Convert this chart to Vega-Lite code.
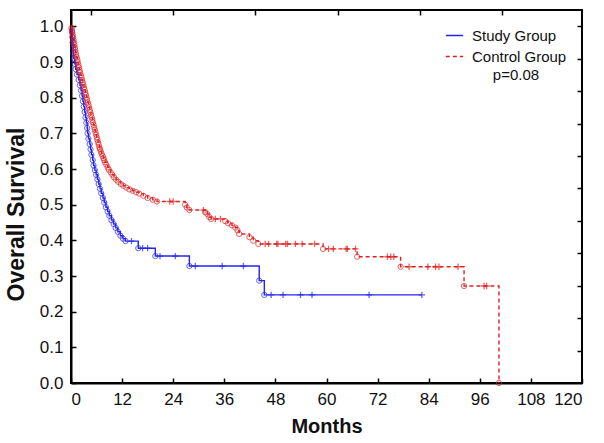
{
  "$schema": "https://vega.github.io/schema/vega-lite/v6.json",
  "width": 511,
  "height": 373,
  "autosize": {"type": "none"},
  "padding": {"left": 71, "top": 10, "right": 22, "bottom": 60},
  "background": "white",
  "config": {
    "font": "Liberation Sans",
    "view": {"stroke": "black", "strokeWidth": 2},
    "axis": {
      "domainColor": "black", "domainWidth": 2, "tickColor": "black", "tickWidth": 1.5,
      "labelColor": "#111", "labelFontSize": 17, "labelFont": "Liberation Sans",
      "titleFont": "Liberation Sans", "titleFontSize": 20, "titleFontWeight": "bold", "titleColor": "#111",
      "grid": false
    }
  },
  "datasets": {
    "km": [
      {"group": "Study Group", "t": 0, "s": 1.0, "type": "start"},
      {"group": "Study Group", "t": 0.2, "s": 0.985, "type": "event"},
      {"group": "Study Group", "t": 0.3, "s": 0.97, "type": "event"},
      {"group": "Study Group", "t": 0.4, "s": 0.955, "type": "event"},
      {"group": "Study Group", "t": 0.5, "s": 0.94, "type": "event"},
      {"group": "Study Group", "t": 0.55, "s": 0.925, "type": "event"},
      {"group": "Study Group", "t": 0.65, "s": 0.91, "type": "event"},
      {"group": "Study Group", "t": 0.85, "s": 0.895, "type": "event"},
      {"group": "Study Group", "t": 1.1, "s": 0.88, "type": "event"},
      {"group": "Study Group", "t": 1.4, "s": 0.865, "type": "event"},
      {"group": "Study Group", "t": 1.8, "s": 0.85, "type": "event"},
      {"group": "Study Group", "t": 2.1, "s": 0.835, "type": "event"},
      {"group": "Study Group", "t": 2.35, "s": 0.82, "type": "event"},
      {"group": "Study Group", "t": 2.6, "s": 0.805, "type": "event"},
      {"group": "Study Group", "t": 2.8, "s": 0.79, "type": "event"},
      {"group": "Study Group", "t": 3.0, "s": 0.775, "type": "event"},
      {"group": "Study Group", "t": 3.2, "s": 0.76, "type": "event"},
      {"group": "Study Group", "t": 3.4, "s": 0.745, "type": "event"},
      {"group": "Study Group", "t": 3.6, "s": 0.73, "type": "event"},
      {"group": "Study Group", "t": 3.8, "s": 0.715, "type": "event"},
      {"group": "Study Group", "t": 3.9, "s": 0.7, "type": "event"},
      {"group": "Study Group", "t": 4.1, "s": 0.685, "type": "event"},
      {"group": "Study Group", "t": 4.4, "s": 0.67, "type": "event"},
      {"group": "Study Group", "t": 4.6, "s": 0.655, "type": "event"},
      {"group": "Study Group", "t": 4.8, "s": 0.64, "type": "event"},
      {"group": "Study Group", "t": 5.1, "s": 0.625, "type": "event"},
      {"group": "Study Group", "t": 5.3, "s": 0.61, "type": "event"},
      {"group": "Study Group", "t": 5.6, "s": 0.597, "type": "event"},
      {"group": "Study Group", "t": 5.9, "s": 0.584, "type": "event"},
      {"group": "Study Group", "t": 6.2, "s": 0.571, "type": "event"},
      {"group": "Study Group", "t": 6.5, "s": 0.558, "type": "event"},
      {"group": "Study Group", "t": 6.8, "s": 0.545, "type": "event"},
      {"group": "Study Group", "t": 7.1, "s": 0.532, "type": "event"},
      {"group": "Study Group", "t": 7.5, "s": 0.519, "type": "event"},
      {"group": "Study Group", "t": 7.8, "s": 0.506, "type": "event"},
      {"group": "Study Group", "t": 8.2, "s": 0.493, "type": "event"},
      {"group": "Study Group", "t": 8.6, "s": 0.481, "type": "event"},
      {"group": "Study Group", "t": 9.0, "s": 0.469, "type": "event"},
      {"group": "Study Group", "t": 9.5, "s": 0.457, "type": "event"},
      {"group": "Study Group", "t": 10.0, "s": 0.446, "type": "event"},
      {"group": "Study Group", "t": 10.5, "s": 0.435, "type": "event"},
      {"group": "Study Group", "t": 11.0, "s": 0.424, "type": "event"},
      {"group": "Study Group", "t": 11.6, "s": 0.413, "type": "event"},
      {"group": "Study Group", "t": 12.2, "s": 0.405, "type": "event"},
      {"group": "Study Group", "t": 12.8, "s": 0.398, "type": "event"},
      {"group": "Study Group", "t": 14.2, "s": 0.398, "type": "censor"},
      {"group": "Study Group", "t": 15.8, "s": 0.378, "type": "event"},
      {"group": "Study Group", "t": 16.8, "s": 0.378, "type": "censor"},
      {"group": "Study Group", "t": 18.0, "s": 0.378, "type": "censor"},
      {"group": "Study Group", "t": 19.8, "s": 0.356, "type": "event"},
      {"group": "Study Group", "t": 20.9, "s": 0.356, "type": "censor"},
      {"group": "Study Group", "t": 24.5, "s": 0.356, "type": "censor"},
      {"group": "Study Group", "t": 27.8, "s": 0.328, "type": "event"},
      {"group": "Study Group", "t": 29.2, "s": 0.328, "type": "censor"},
      {"group": "Study Group", "t": 35.5, "s": 0.328, "type": "censor"},
      {"group": "Study Group", "t": 40.5, "s": 0.328, "type": "censor"},
      {"group": "Study Group", "t": 44.2, "s": 0.287, "type": "event"},
      {"group": "Study Group", "t": 45.4, "s": 0.247, "type": "event"},
      {"group": "Study Group", "t": 47.0, "s": 0.247, "type": "censor"},
      {"group": "Study Group", "t": 49.8, "s": 0.247, "type": "censor"},
      {"group": "Study Group", "t": 53.9, "s": 0.247, "type": "censor"},
      {"group": "Study Group", "t": 56.6, "s": 0.247, "type": "censor"},
      {"group": "Study Group", "t": 70.0, "s": 0.247, "type": "censor"},
      {"group": "Study Group", "t": 82.4, "s": 0.247, "type": "censor"},
      {"group": "Control Group", "t": 0, "s": 1.0, "type": "start"},
      {"group": "Control Group", "t": 0.1, "s": 0.995, "type": "event"},
      {"group": "Control Group", "t": 0.2, "s": 0.99, "type": "event"},
      {"group": "Control Group", "t": 0.3, "s": 0.983, "type": "event"},
      {"group": "Control Group", "t": 0.4, "s": 0.976, "type": "event"},
      {"group": "Control Group", "t": 0.5, "s": 0.969, "type": "event"},
      {"group": "Control Group", "t": 0.6, "s": 0.962, "type": "event"},
      {"group": "Control Group", "t": 0.7, "s": 0.955, "type": "event"},
      {"group": "Control Group", "t": 0.8, "s": 0.948, "type": "event"},
      {"group": "Control Group", "t": 0.9, "s": 0.941, "type": "event"},
      {"group": "Control Group", "t": 1.0, "s": 0.934, "type": "event"},
      {"group": "Control Group", "t": 1.1, "s": 0.927, "type": "event"},
      {"group": "Control Group", "t": 1.2, "s": 0.92, "type": "event"},
      {"group": "Control Group", "t": 1.35, "s": 0.913, "type": "event"},
      {"group": "Control Group", "t": 1.5, "s": 0.906, "type": "event"},
      {"group": "Control Group", "t": 1.6, "s": 0.899, "type": "event"},
      {"group": "Control Group", "t": 1.75, "s": 0.892, "type": "event"},
      {"group": "Control Group", "t": 1.9, "s": 0.885, "type": "event"},
      {"group": "Control Group", "t": 2.0, "s": 0.878, "type": "event"},
      {"group": "Control Group", "t": 2.15, "s": 0.871, "type": "event"},
      {"group": "Control Group", "t": 2.3, "s": 0.864, "type": "event"},
      {"group": "Control Group", "t": 2.45, "s": 0.857, "type": "event"},
      {"group": "Control Group", "t": 2.6, "s": 0.85, "type": "event"},
      {"group": "Control Group", "t": 2.75, "s": 0.843, "type": "event"},
      {"group": "Control Group", "t": 2.9, "s": 0.836, "type": "event"},
      {"group": "Control Group", "t": 3.05, "s": 0.829, "type": "event"},
      {"group": "Control Group", "t": 3.2, "s": 0.822, "type": "event"},
      {"group": "Control Group", "t": 3.35, "s": 0.815, "type": "event"},
      {"group": "Control Group", "t": 3.5, "s": 0.808, "type": "event"},
      {"group": "Control Group", "t": 3.65, "s": 0.801, "type": "event"},
      {"group": "Control Group", "t": 3.8, "s": 0.794, "type": "event"},
      {"group": "Control Group", "t": 3.95, "s": 0.787, "type": "event"},
      {"group": "Control Group", "t": 4.1, "s": 0.78, "type": "event"},
      {"group": "Control Group", "t": 4.25, "s": 0.773, "type": "event"},
      {"group": "Control Group", "t": 4.4, "s": 0.766, "type": "event"},
      {"group": "Control Group", "t": 4.55, "s": 0.759, "type": "event"},
      {"group": "Control Group", "t": 4.7, "s": 0.752, "type": "event"},
      {"group": "Control Group", "t": 4.85, "s": 0.745, "type": "event"},
      {"group": "Control Group", "t": 5.0, "s": 0.738, "type": "event"},
      {"group": "Control Group", "t": 5.15, "s": 0.731, "type": "event"},
      {"group": "Control Group", "t": 5.3, "s": 0.724, "type": "event"},
      {"group": "Control Group", "t": 5.45, "s": 0.717, "type": "event"},
      {"group": "Control Group", "t": 5.6, "s": 0.71, "type": "event"},
      {"group": "Control Group", "t": 5.75, "s": 0.703, "type": "event"},
      {"group": "Control Group", "t": 5.9, "s": 0.696, "type": "event"},
      {"group": "Control Group", "t": 6.05, "s": 0.689, "type": "event"},
      {"group": "Control Group", "t": 6.2, "s": 0.682, "type": "event"},
      {"group": "Control Group", "t": 6.35, "s": 0.675, "type": "event"},
      {"group": "Control Group", "t": 6.5, "s": 0.668, "type": "event"},
      {"group": "Control Group", "t": 6.65, "s": 0.661, "type": "event"},
      {"group": "Control Group", "t": 6.8, "s": 0.656, "type": "event"},
      {"group": "Control Group", "t": 7.0, "s": 0.649, "type": "event"},
      {"group": "Control Group", "t": 7.2, "s": 0.643, "type": "event"},
      {"group": "Control Group", "t": 7.4, "s": 0.637, "type": "event"},
      {"group": "Control Group", "t": 7.6, "s": 0.631, "type": "event"},
      {"group": "Control Group", "t": 7.8, "s": 0.625, "type": "event"},
      {"group": "Control Group", "t": 8.0, "s": 0.619, "type": "event"},
      {"group": "Control Group", "t": 8.3, "s": 0.612, "type": "event"},
      {"group": "Control Group", "t": 8.6, "s": 0.605, "type": "event"},
      {"group": "Control Group", "t": 8.9, "s": 0.598, "type": "event"},
      {"group": "Control Group", "t": 9.3, "s": 0.591, "type": "event"},
      {"group": "Control Group", "t": 9.7, "s": 0.584, "type": "event"},
      {"group": "Control Group", "t": 10.1, "s": 0.577, "type": "event"},
      {"group": "Control Group", "t": 10.6, "s": 0.57, "type": "event"},
      {"group": "Control Group", "t": 11.1, "s": 0.564, "type": "event"},
      {"group": "Control Group", "t": 11.7, "s": 0.558, "type": "event"},
      {"group": "Control Group", "t": 12.3, "s": 0.553, "type": "event"},
      {"group": "Control Group", "t": 13.0, "s": 0.548, "type": "event"},
      {"group": "Control Group", "t": 13.7, "s": 0.543, "type": "event"},
      {"group": "Control Group", "t": 14.5, "s": 0.539, "type": "event"},
      {"group": "Control Group", "t": 15.3, "s": 0.535, "type": "event"},
      {"group": "Control Group", "t": 16.0, "s": 0.531, "type": "event"},
      {"group": "Control Group", "t": 17.0, "s": 0.525, "type": "event"},
      {"group": "Control Group", "t": 18.0, "s": 0.519, "type": "event"},
      {"group": "Control Group", "t": 19.2, "s": 0.514, "type": "event"},
      {"group": "Control Group", "t": 20.2, "s": 0.509, "type": "event"},
      {"group": "Control Group", "t": 23.2, "s": 0.509, "type": "censor"},
      {"group": "Control Group", "t": 24.0, "s": 0.509, "type": "censor"},
      {"group": "Control Group", "t": 26.8, "s": 0.5, "type": "event"},
      {"group": "Control Group", "t": 27.2, "s": 0.492, "type": "event"},
      {"group": "Control Group", "t": 27.8, "s": 0.485, "type": "event"},
      {"group": "Control Group", "t": 31.1, "s": 0.485, "type": "censor"},
      {"group": "Control Group", "t": 31.5, "s": 0.479, "type": "event"},
      {"group": "Control Group", "t": 32.0, "s": 0.474, "type": "event"},
      {"group": "Control Group", "t": 32.5, "s": 0.465, "type": "event"},
      {"group": "Control Group", "t": 32.9, "s": 0.46, "type": "event"},
      {"group": "Control Group", "t": 33.9, "s": 0.46, "type": "censor"},
      {"group": "Control Group", "t": 35.1, "s": 0.46, "type": "censor"},
      {"group": "Control Group", "t": 36.2, "s": 0.454, "type": "event"},
      {"group": "Control Group", "t": 36.9, "s": 0.448, "type": "event"},
      {"group": "Control Group", "t": 37.8, "s": 0.442, "type": "event"},
      {"group": "Control Group", "t": 38.6, "s": 0.436, "type": "event"},
      {"group": "Control Group", "t": 39.1, "s": 0.428, "type": "event"},
      {"group": "Control Group", "t": 39.5, "s": 0.418, "type": "event"},
      {"group": "Control Group", "t": 41.9, "s": 0.409, "type": "event"},
      {"group": "Control Group", "t": 42.8, "s": 0.399, "type": "event"},
      {"group": "Control Group", "t": 44.0, "s": 0.39, "type": "event"},
      {"group": "Control Group", "t": 45.6, "s": 0.39, "type": "censor"},
      {"group": "Control Group", "t": 46.4, "s": 0.39, "type": "censor"},
      {"group": "Control Group", "t": 48.3, "s": 0.39, "type": "censor"},
      {"group": "Control Group", "t": 48.6, "s": 0.39, "type": "censor"},
      {"group": "Control Group", "t": 50.4, "s": 0.39, "type": "censor"},
      {"group": "Control Group", "t": 50.8, "s": 0.39, "type": "censor"},
      {"group": "Control Group", "t": 52.7, "s": 0.39, "type": "censor"},
      {"group": "Control Group", "t": 54.3, "s": 0.39, "type": "censor"},
      {"group": "Control Group", "t": 57.2, "s": 0.39, "type": "censor"},
      {"group": "Control Group", "t": 59.2, "s": 0.376, "type": "event"},
      {"group": "Control Group", "t": 60.5, "s": 0.376, "type": "censor"},
      {"group": "Control Group", "t": 61.6, "s": 0.376, "type": "censor"},
      {"group": "Control Group", "t": 64.6, "s": 0.376, "type": "censor"},
      {"group": "Control Group", "t": 64.9, "s": 0.376, "type": "censor"},
      {"group": "Control Group", "t": 66.8, "s": 0.376, "type": "censor"},
      {"group": "Control Group", "t": 67.2, "s": 0.354, "type": "event"},
      {"group": "Control Group", "t": 74.3, "s": 0.354, "type": "censor"},
      {"group": "Control Group", "t": 75.1, "s": 0.354, "type": "censor"},
      {"group": "Control Group", "t": 75.8, "s": 0.354, "type": "censor"},
      {"group": "Control Group", "t": 77.4, "s": 0.326, "type": "event"},
      {"group": "Control Group", "t": 79.4, "s": 0.326, "type": "censor"},
      {"group": "Control Group", "t": 83.8, "s": 0.326, "type": "censor"},
      {"group": "Control Group", "t": 85.6, "s": 0.326, "type": "censor"},
      {"group": "Control Group", "t": 86.4, "s": 0.326, "type": "censor"},
      {"group": "Control Group", "t": 90.9, "s": 0.326, "type": "censor"},
      {"group": "Control Group", "t": 92.3, "s": 0.272, "type": "event"},
      {"group": "Control Group", "t": 97.0, "s": 0.272, "type": "censor"},
      {"group": "Control Group", "t": 97.6, "s": 0.272, "type": "censor"},
      {"group": "Control Group", "t": 100.5, "s": 0.0, "type": "event"}
    ],
    "note": [{"label": "p=0.08", "t": 104.5, "s": 0.864}]
  },
  "resolve": {"axis": {"x": "independent", "y": "independent"}},
  "layer": [
    {
      "data": {"name": "km"},
      "mark": {"type": "line", "interpolate": "step-after", "strokeWidth": 1.4},
      "encoding": {
        "x": {"field": "t", "type": "quantitative", "scale": {"domain": [0, 120], "nice": false, "zero": false},
              "axis": {"orient": "bottom", "values": [0,12,24,36,48,60,72,84,96,108,120], "tickSize": -5, "labelPadding": 13, "title": "Months", "titlePadding": 9}},
        "y": {"field": "s", "type": "quantitative", "scale": {"domain": [0, 1.046], "nice": false},
              "axis": {"orient": "left", "values": [0,0.1,0.2,0.3,0.4,0.5,0.6,0.7,0.8,0.9,1.0], "format": ".1f", "tickSize": -5, "labelPadding": 13, "title": "Overall Survival", "titleFontSize": 23, "titlePadding": 11, "titleY": 204}},
        "color": {"field": "group", "type": "nominal",
                  "scale": {"domain": ["Study Group", "Control Group"], "range": ["#2424f0", "#e02020"]},
                  "legend": {"title": null, "orient": "none", "legendX": 374, "legendY": 16, "symbolType": "stroke", "symbolSize": 300, "symbolStrokeWidth": 1.4, "labelFontSize": 15, "labelColor": "#111", "labelFont": "Liberation Sans", "rowPadding": 3, "labelOffset": 8, "padding": 0}},
        "strokeDash": {"field": "group", "type": "nominal",
                  "scale": {"domain": ["Study Group", "Control Group"], "range": [[1, 0], [4, 3]]}},
        "order": {"field": "t", "type": "quantitative"}
      }
    },
    {
      "data": {"name": "km"},
      "transform": [{"filter": "datum.type === 'event'"}],
      "mark": {"type": "point", "shape": "circle", "filled": false, "size": 28, "strokeWidth": 1},
      "encoding": {
        "x": {"field": "t", "type": "quantitative", "axis": null},
        "y": {"field": "s", "type": "quantitative", "axis": null},
        "color": {"field": "group", "type": "nominal", "legend": null}
      }
    },
    {
      "data": {"name": "km"},
      "transform": [{"filter": "datum.type === 'censor'"}],
      "mark": {"type": "point", "shape": "M-1,0L1,0M0,-1L0,1", "filled": false, "size": 40, "strokeWidth": 1.3},
      "encoding": {
        "x": {"field": "t", "type": "quantitative", "axis": null},
        "y": {"field": "s", "type": "quantitative", "axis": null},
        "color": {"field": "group", "type": "nominal", "legend": null}
      }
    },
    {
      "data": {"name": "note"},
      "mark": {"type": "text", "fontSize": 15, "font": "Liberation Sans", "color": "#111", "align": "center", "baseline": "middle"},
      "encoding": {
        "text": {"field": "label"},
        "x": {"field": "t", "type": "quantitative",
              "axis": {"orient": "top", "values": [4.7, 24, 43.3, 62.6, 82, 101.3], "labels": false, "title": null, "domain": false, "tickSize": -5}},
        "y": {"field": "s", "type": "quantitative",
              "axis": {"orient": "right", "values": [0.0909, 0.1818, 0.2727, 0.3636, 0.4545, 0.5455, 0.6364, 0.7273, 0.8182, 0.9091, 1.0], "labels": false, "title": null, "domain": false, "tickSize": -5}}
      }
    }
  ]
}
